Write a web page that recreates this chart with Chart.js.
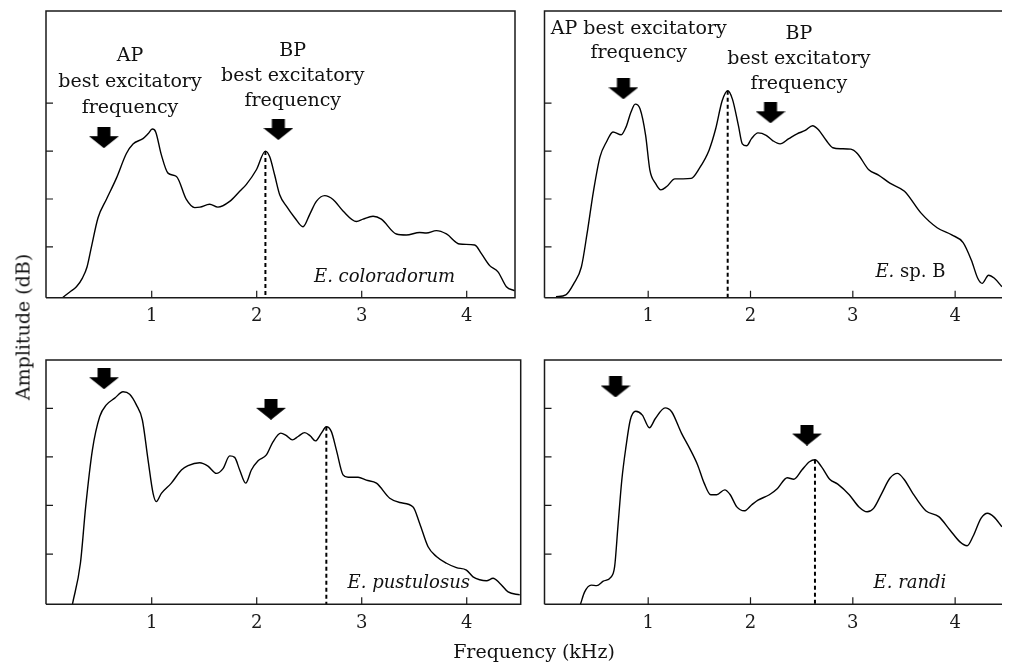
<!DOCTYPE html>
<html>
<head>
<meta charset="utf-8">
<script src="https://cdn.jsdelivr.net/npm/chart.js@4.4.1/dist/chart.umd.min.js"></script>
<style>
html,body{margin:0;padding:0;background:#fff;width:1013px;height:664px;overflow:hidden;position:relative}
canvas{position:absolute;left:0;top:0}
.t{position:absolute;font-family:'DejaVu Serif';font-size:19px;color:#111;white-space:nowrap;line-height:1}
#ytitle{left:23px;top:327px;transform:translate(-50%,-50%) rotate(-90deg)}
#xtitle{left:534px;top:651px;transform:translate(-50%,-50%)}
</style>
</head>
<body>
<canvas id="c0" width="1013" height="664"></canvas>
<canvas id="c1" width="1013" height="664"></canvas>
<canvas id="c2" width="1013" height="664"></canvas>
<canvas id="c3" width="1013" height="664"></canvas>
<div class="t" id="ytitle">Amplitude (dB)</div>
<div class="t" id="xtitle">Frequency (kHz)</div>
<script>
// ---------------- DATA ----------------
const xTickValues = [1, 2, 3, 4];
const yTickValues = [10, 20, 30, 40];

const coloradorumFreq = [0.15,0.22,0.283,0.34,0.384,0.425,0.489,0.568,0.663,0.759,0.822,0.917,0.965,1.006,1.038,1.092,1.155,1.236,1.33,1.41,1.46,1.552,1.63,1.743,1.838,1.9,1.997,2.083,2.124,2.171,2.219,2.283,2.362,2.441,2.505,2.568,2.648,2.727,2.822,2.95,3.013,3.108,3.187,3.33,3.425,3.552,3.616,3.711,3.807,3.933,4.076,4.14,4.219,4.298,4.378,4.457];
const coloradorumAmp  = [-0.6,0.6,1.67,3.5,5.8,9.9,16.1,19.9,24.3,29.5,31.5,32.6,33.6,34.6,34.0,29.2,25.4,24.7,19.9,18.2,18.3,18.9,18.3,19.5,21.6,23.0,26.1,30.0,28.8,25.0,20.9,18.5,16.1,14.2,16.8,19.5,20.7,19.9,17.5,15.3,15.8,16.4,15.8,12.7,12.5,13.0,12.9,13.4,12.7,10.6,10.4,8.6,6.1,4.8,1.7,0.85];

const spBFreq = [0.099,0.195,0.274,0.347,0.402,0.465,0.529,0.592,0.656,0.736,0.783,0.831,0.873,0.921,0.975,1.016,1.07,1.124,1.181,1.261,1.341,1.42,1.5,1.595,1.659,1.723,1.777,1.824,1.882,1.92,1.962,2.01,2.073,2.153,2.216,2.289,2.375,2.455,2.535,2.607,2.662,2.741,2.805,2.885,2.98,3.044,3.156,3.251,3.362,3.505,3.665,3.824,3.967,4.078,4.159,4.222,4.264,4.327,4.381,4.457];
const spBAmp  = [-0.4,0,2.4,5.8,12.7,21.6,28.8,31.9,34.0,33.4,35.0,38.1,39.8,38.8,33.3,26.1,23.3,21.9,22.6,24.2,24.2,24.3,26.4,30.2,34.6,40.5,42.6,40.8,35.3,31.5,31.1,32.6,33.8,33.3,32.2,31.5,32.6,33.6,34.3,35.3,34.5,32.2,30.7,30.5,30.4,29.5,26.1,25.0,23.3,21.6,17.1,14.0,12.5,10.9,7.2,3.4,2.4,4.1,3.5,1.7];

const pustulosusFreq = [0.245,0.321,0.371,0.435,0.505,0.568,0.648,0.727,0.79,0.854,0.911,0.965,1.013,1.044,1.092,1.187,1.283,1.346,1.457,1.536,1.616,1.679,1.743,1.79,1.838,1.895,1.949,2.013,2.092,2.155,2.229,2.276,2.34,2.394,2.457,2.511,2.559,2.616,2.663,2.711,2.759,2.822,2.87,2.965,3.044,3.14,3.267,3.362,3.489,3.552,3.632,3.711,3.807,3.902,3.997,4.06,4.124,4.188,4.251,4.314,4.394,4.505];
const pustulosusAmp  = [-0.35,8.1,19.7,31.4,38.3,40.7,42.1,43.4,42.9,40.7,37.6,29.4,22.5,20.8,22.5,24.6,27.3,28.2,28.8,28.1,26.6,27.6,30.2,29.9,27.3,24.6,27.3,29.2,30.4,33.1,34.9,34.5,33.5,34.2,35.0,34.3,33.3,34.9,36.2,35.2,31.4,26.3,25.8,25.8,25.2,24.6,21.5,20.6,19.7,16.3,11.5,9.5,8.1,7.2,6.7,5.3,4.7,4.5,5.0,4.0,2.2,1.6];

const randiFreq = [0.338,0.379,0.443,0.497,0.561,0.634,0.672,0.704,0.742,0.783,0.825,0.879,0.943,1.012,1.07,1.165,1.229,1.325,1.404,1.484,1.547,1.611,1.669,1.748,1.802,1.866,1.939,2.01,2.073,2.184,2.264,2.359,2.423,2.502,2.576,2.63,2.693,2.774,2.853,2.965,3.06,3.14,3.203,3.283,3.362,3.436,3.5,3.586,3.713,3.84,3.951,4.047,4.117,4.174,4.254,4.317,4.381,4.457];
const randiAmp  = [-0.35,2.2,3.6,3.5,4.4,5.2,7.4,15.6,25.2,32.1,37.6,39.4,38.6,36.0,37.9,40.1,39.3,34.9,31.8,28.3,24.6,22.2,22.2,23.2,22.2,19.7,18.9,20.1,21.1,22.2,23.5,25.7,25.4,27.3,29.0,29.4,28.0,25.4,24.4,22.2,19.7,18.7,19.4,22.5,25.6,26.6,25.4,22.5,18.9,17.7,14.9,12.5,11.7,13.6,17.4,18.4,17.6,15.6];

// BP peak (dashed line) per panel
const bpPeakFreq = [2.083, 1.777, 2.663, 2.63];
const bpPeakAmp  = [30.0, 42.6, 36.2, 29.4];
// best excitatory frequency arrows per panel
const apArrowFreq = [0.545, 0.758, 0.546, 0.681];
const apArrowAmp  = [32.8, 43.0, 46.1, 44.4];
const bpArrowFreq = [2.206, 2.196, 2.136, 2.552];
const bpArrowAmp  = [34.5, 38.0, 39.8, 34.5];

const speciesNames = [
  [['E. coloradorum', true]],
  [['E.', true], [' sp. B', false]],
  [['E. pustulosus', true]],
  [['E. randi', true]]
];

// ---------------- LAYOUT ----------------
const FONT = "'DejaVu Serif'";
const XAXIS_H = 30;
const panels = [
  {left:46, top:7.3, right:515, bottom:297.7, xMin:-0.0067, xMax:4.460, yMin:-0.6, yMax:59.24, rightBorder:true,
   freq:coloradorumFreq, amp:coloradorumAmp,
   notes:[{x:0.793, y:48.73, gap:25.8, lines:['AP','best excitatory','frequency']},
          {x:2.343, y:49.76, gap:25.0, lines:['BP','best excitatory','frequency']}],
   label:{x:3.889, y:2.7}},
  {left:544.5, top:7.3, right:1013, bottom:297.7, xMin:-0.0134, xMax:4.458, yMin:-0.6, yMax:59.24, rightBorder:false,
   freq:spBFreq, amp:spBAmp,
   notes:[{x:0.908, y:54.42, gap:24.3, lines:['AP best excitatory','frequency']},
          {x:2.473, y:53.33, gap:25.0, lines:['BP','best excitatory','frequency']}],
   label:{x:3.905, y:3.73}},
  {left:46, top:360, right:520.7, bottom:604.3, xMin:-0.0067, xMax:4.514, yMin:-0.35, yMax:49.95, rightBorder:true,
   freq:pustulosusFreq, amp:pustulosusAmp, notes:[], label:{x:4.031, y:2.94}},
  {left:544.5, top:360, right:1013, bottom:604.3, xMin:-0.0134, xMax:4.458, yMin:-0.35, yMax:49.95, rightBorder:false,
   freq:randiFreq, amp:randiAmp, notes:[], label:{x:3.914, y:2.94}}
];

function makeArrow(){
  const c = document.createElement('canvas');
  c.width = 30; c.height = 21;
  const g = c.getContext('2d');
  g.fillStyle = '#000';
  g.beginPath();
  g.moveTo(8.5,0); g.lineTo(21.5,0); g.lineTo(21.5,9); g.lineTo(30,9);
  g.lineTo(15,21); g.lineTo(0,9); g.lineTo(8.5,9); g.closePath(); g.fill();
  return c;
}
const arrowImg = makeArrow();

const framePlugin = {
  id: 'frame',
  afterDraw(chart, args, opts){
    const {ctx, chartArea:a} = chart;
    const xs = chart.scales.x, ys = chart.scales.y;
    ctx.save();
    ctx.strokeStyle = '#1a1a1a';
    ctx.lineWidth = 1.5;
    ctx.beginPath();
    ctx.moveTo(a.left, a.bottom); ctx.lineTo(a.left, a.top); ctx.lineTo(a.right, a.top);
    if (opts.rightBorder) ctx.lineTo(a.right, a.bottom);
    ctx.moveTo(a.left, a.bottom); ctx.lineTo(a.right + (opts.rightBorder ? 0.75 : 0), a.bottom);
    ctx.stroke();
    ctx.lineWidth = 1.2;
    ctx.beginPath();
    ys.ticks.forEach(t => { const p = ys.getPixelForValue(t.value); ctx.moveTo(a.left, p); ctx.lineTo(a.left + 7, p); });
    xs.ticks.forEach(t => { const p = xs.getPixelForValue(t.value); ctx.moveTo(p, a.bottom); ctx.lineTo(p, a.bottom - 7); });
    ctx.stroke();
    // annotations
    ctx.fillStyle = '#111';
    ctx.textBaseline = 'alphabetic';
    ctx.textAlign = 'center';
    ctx.font = "19px " + FONT;
    (opts.notes || []).forEach(n => {
      const px = xs.getPixelForValue(n.x), py = ys.getPixelForValue(n.y);
      n.lines.forEach((l, i) => ctx.fillText(l, px, py + i * n.gap));
    });
    // species label (right aligned)
    if (opts.label) {
      const parts = opts.label.parts;
      ctx.textAlign = 'left';
      let w = 0;
      parts.forEach(p => { ctx.font = (p[1] ? 'italic ' : '') + "18px " + FONT; w += ctx.measureText(p[0]).width; });
      let px = xs.getPixelForValue(opts.label.x) - w;
      const py = ys.getPixelForValue(opts.label.y);
      parts.forEach(p => { ctx.font = (p[1] ? 'italic ' : '') + "18px " + FONT; ctx.fillText(p[0], px, py); px += ctx.measureText(p[0]).width; });
    }
    ctx.restore();
  }
};

panels.forEach((P, i) => {
  const curve = P.freq.map((f, k) => ({x: f, y: P.amp[k]}));
  new Chart(document.getElementById('c' + i), {
    type: 'line',
    data: {
      datasets: [
        {data: curve, borderColor: '#000', borderWidth: 1.4, pointRadius: 0, cubicInterpolationMode: 'monotone', fill: false},
        {data: [{x: bpPeakFreq[i], y: bpPeakAmp[i]}, {x: bpPeakFreq[i], y: P.yMin}], borderColor: '#000', borderWidth: 2, borderDash: [4, 3], pointRadius: 0, fill: false},
        {type: 'scatter', data: [{x: apArrowFreq[i], y: apArrowAmp[i]}, {x: bpArrowFreq[i], y: bpArrowAmp[i]}], pointStyle: arrowImg, pointRadius: 10, showLine: false}
      ]
    },
    options: {
      responsive: false,
      animation: false,
      events: [],
      layout: {padding: {left: P.left, top: P.top, right: 1013 - P.right, bottom: 664 - P.bottom - XAXIS_H}},
      plugins: {legend: {display: false}, tooltip: {enabled: false},
        frame: {rightBorder: P.rightBorder, notes: P.notes, label: {x: P.label.x, y: P.label.y, parts: speciesNames[i]}}},
      scales: {
        x: {type: 'linear', min: P.xMin, max: P.xMax,
            afterBuildTicks: s => { s.ticks = xTickValues.map(v => ({value: v})); },
            afterFit: s => { s.height = XAXIS_H; },
            grid: {display: false, drawTicks: false}, border: {display: false},
            ticks: {padding: 8, color: '#1a1a1a', font: {family: 'DejaVu Serif', size: 18}, callback: v => String(v), maxRotation: 0, autoSkip: false}},
        y: {type: 'linear', min: P.yMin, max: P.yMax,
            afterBuildTicks: s => { s.ticks = yTickValues.map(v => ({value: v})); },
            afterFit: s => { s.width = 0; },
            grid: {display: false, drawTicks: false}, border: {display: false},
            ticks: {display: false}}
      }
    },
    plugins: [framePlugin]
  });
});
</script>
</body>
</html>
